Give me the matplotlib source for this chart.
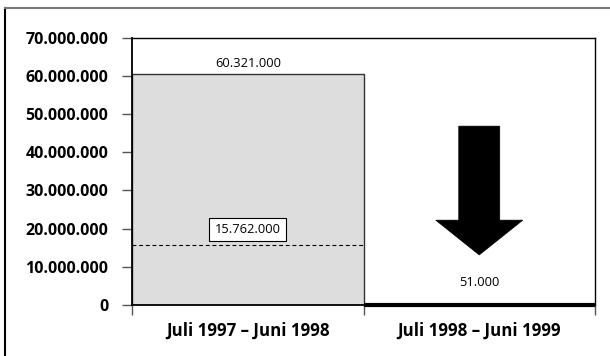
import matplotlib
matplotlib.use("Agg")
import matplotlib.pyplot as plt
from matplotlib.lines import Line2D
from matplotlib.patches import Polygon
from matplotlib.ticker import FixedLocator, FuncFormatter

plt.rcParams['font.family'] = ['Open Sans', 'DejaVu Sans']

# Data
periods = ["Juli 1997 – Juni 1998", "Juli 1998 – Juni 1999"]
values = [60321000, 51000]
reference_level = 15762000
y_ticks = [0, 10000000, 20000000, 30000000, 40000000, 50000000, 60000000, 70000000]


def de_format(v, pos=None):
    return f"{int(v):,}".replace(",", ".")


W, H = 610, 356
fig = plt.figure(figsize=(W / 100, H / 100), dpi=100)
ax = fig.add_axes([132 / W, 51 / H, (595 - 132) / W, (305 - 37.5) / H])

x = list(range(len(periods)))
ax.bar(x[0], values[0], width=1.0, color="#dddddd", edgecolor="#333333",
       linewidth=1.0, zorder=2)
ax.bar(x[1], values[1], width=1.0, color="black", edgecolor="black",
       linewidth=3.0, zorder=3, clip_on=False)

ax.set_xlim(-0.5, 1.5)
ax.set_ylim(0, 70000000)

# value labels
ax.annotate(de_format(values[0]), (x[0], values[0]), xytext=(0, 3),
            textcoords="offset points", ha="center", va="bottom", fontsize=9.3)
ax.annotate(de_format(values[1]), (x[1], values[1]), xytext=(0, 16),
            textcoords="offset points", ha="center", va="center", fontsize=9.3)

# reference level across the first period
ax.plot([x[0] - 0.5, x[0] + 0.5], [reference_level, reference_level],
        color="black", linestyle=(0, (3.5, 2.5)), linewidth=0.8, zorder=4)
ax.annotate(de_format(reference_level), (x[0], reference_level), xytext=(0, 11),
            textcoords="offset points", ha="center", va="center", fontsize=9.3,
            bbox=dict(boxstyle="square,pad=0.42", facecolor="white",
                      edgecolor="black", linewidth=0.8), zorder=5)

# downward arrow over the second period
shaft_half, head_half = 0.0885, 0.188
shaft_top, head_base, tip = 46.8e6, 22.2e6, 13.1e6
cx = x[1]
arrow = Polygon([
    (cx - shaft_half, shaft_top), (cx + shaft_half, shaft_top),
    (cx + shaft_half, head_base), (cx + head_half, head_base),
    (cx, tip), (cx - head_half, head_base), (cx - shaft_half, head_base),
], closed=True, facecolor="black", edgecolor="black", linewidth=0.5, zorder=4)
ax.add_patch(arrow)

# axes styling
ax.yaxis.set_major_locator(FixedLocator(y_ticks))
ax.yaxis.set_major_formatter(FuncFormatter(de_format))
ax.tick_params(axis="y", direction="out", length=7.5, width=1.0,
               color="#555555", pad=9.5, labelsize=11.5)
for lbl in ax.get_yticklabels():
    lbl.set_fontweight("bold")

ax.set_xticks([-0.5, 0.5, 1.5])
ax.set_xticklabels([])
ax.tick_params(axis="x", which="major", direction="out", length=7.5,
               width=1.0, color="#555555")
ax.set_xticks(x, minor=True)
ax.set_xticklabels(periods, minor=True, fontweight="bold", fontsize=12.2)
ax.tick_params(axis="x", which="minor", length=0, pad=12)

for side in ["left", "bottom", "top", "right"]:
    ax.spines[side].set_color("black")
    ax.spines[side].set_linewidth(1.0)
ax.spines["left"].set_linewidth(1.3)
ax.spines["bottom"].set_linewidth(1.3)

# outer frame (left and top edges)
fig.add_artist(Line2D([5 / W, 5 / W], [0, (H - 8) / H], transform=fig.transFigure,
                      color="black", linewidth=1.5))
fig.add_artist(Line2D([5 / W, 1], [(H - 8) / H, (H - 8) / H],
                      transform=fig.transFigure, color="#777777", linewidth=1.5))

fig.savefig("out.png", dpi=100)
